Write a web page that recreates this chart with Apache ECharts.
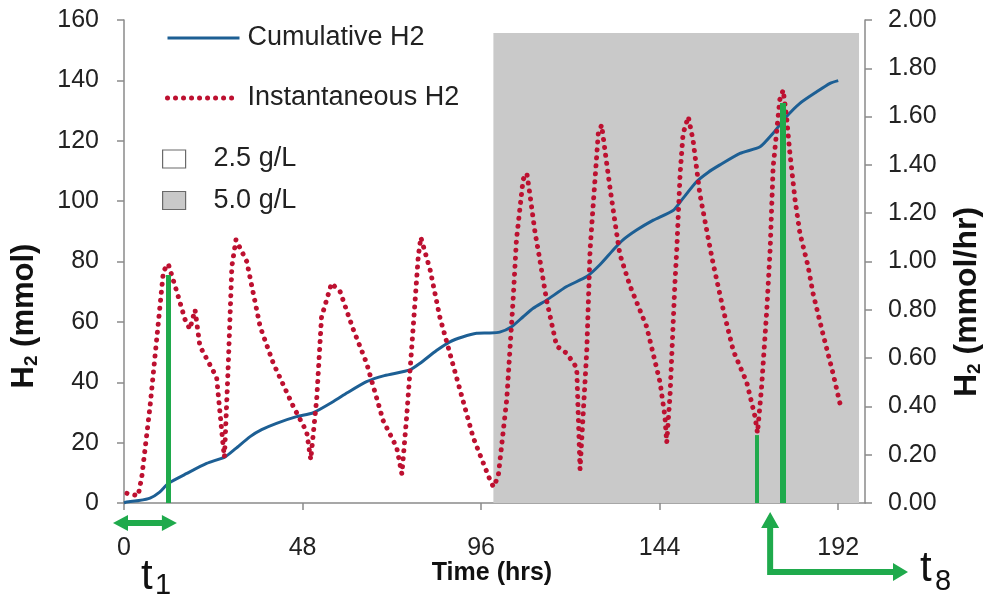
<!DOCTYPE html>
<html>
<head>
<meta charset="utf-8">
<script src="https://cdn.jsdelivr.net/npm/echarts@6/dist/echarts.min.js"></script>
<style>
html,body{margin:0;padding:0;background:#fff;}
#c{width:984px;height:599px;}
</style>
</head>
<body>
<div id="c"></div>
<script>
// ---- data ----
const xTicks = [0, 48, 96, 144, 192];
const cumHours = [0,0.7,4,7,9.5,11.9,16.9,22.2,27.2,30,33.9,37,41,46.4,50.9,56.3,60,65.2,70,76.9,79.6,84,87.6,91,94.8,98,101,104.2,107.3,110,113.6,119,124.4,128,131.5,134,137.8,142.3,147.7,150,153.9,157,160.2,165.6,171,174.5,178.1,181.7,186.2,189.8,192];
const cumH2 = [0,0.3,0.8,1.6,3.5,6.5,9.8,13.1,15.3,18,22,24.3,26.4,28.6,29.9,33.6,36.5,40.2,42.2,44.1,46.3,50.5,53.4,55,56.2,56.3,56.6,58.4,61.7,64.5,67.2,71.7,75,79,83.8,87,90.4,93.7,97,100.5,106.4,109.5,112,115.8,118,122.5,128,132.4,136.2,139,139.9];
const instHours = [0.8,3.8,4.8,7.0,8.8,10.6,11.9,14.2,16.4,17.7,19.1,20.4,24.9,26.7,27.0,28.0,29.0,30.1,33.0,36.6,40.1,45.5,49.1,50.2,51.8,53.1,55.8,58.1,61.6,65.2,69.7,73.3,74.7,76.0,77.8,79.1,79.8,82.3,84.9,89.4,93.9,98.4,99.3,100.6,102.9,104.6,105.5,107.3,108.3,109.1,110.5,111.8,113.6,116.3,119.0,121.7,122.6,124.4,125.3,126.2,127.5,128.4,129.3,130.6,132.4,133.3,136.0,140.5,144.1,145.4,145.9,146.8,148.1,148.6,149.5,150.3,151.7,153.0,154.8,157.5,158.4,161.1,163.8,167.4,169.6,170.3,171.4,172.8,173.7,174.5,176.3,177.2,178.1,179.0,180.4,181.7,183.9,185.2,187.9,190.6,192.5];
const instH2 = [0.04,0.03,0.11,0.40,0.68,0.96,0.99,0.875,0.76,0.72,0.80,0.65,0.52,0.23,0.19,0.56,0.98,1.09,1.00,0.73,0.58,0.40,0.295,0.18,0.43,0.77,0.91,0.875,0.72,0.58,0.34,0.23,0.12,0.36,0.74,1.02,1.10,0.965,0.77,0.52,0.27,0.095,0.067,0.11,0.43,0.84,1.09,1.34,1.365,1.28,1.12,1.006,0.84,0.65,0.62,0.56,0.14,0.63,1.05,1.25,1.53,1.565,1.46,1.31,1.12,1.03,0.90,0.73,0.50,0.36,0.25,0.45,0.91,1.05,1.365,1.53,1.60,1.50,1.28,1.06,0.99,0.80,0.63,0.50,0.36,0.29,0.48,0.80,1.05,1.39,1.67,1.71,1.60,1.45,1.255,1.117,0.98,0.87,0.70,0.537,0.41];
const shadeFrom = [99.3, 0];
const shadeTo = [197.6, 155.7];
const markerHours = [11.8, 170.2, 177.2];
const markerTops = [75.5, 22.5, 132.5];
const markerWidths = [5, 4, 6];
const arrowUpHour = 173.7;

const FONT = 'Liberation Sans';
const GREEN = '#1faa4c';
const AXIS = '#8a8a8a';
const RED = '#bd1030';
const NOSYM = {color: 'rgba(0,0,0,0)', borderWidth: 0, opacity: 0};
const DOTS = {color: RED, width: 5, type: [0.01, 8], cap: 'round'};

const chart = echarts.init(document.getElementById('c'), null, {renderer: 'canvas'});

const option = {
  animation: false,
  backgroundColor: '#fff',
  textStyle: {fontFamily: FONT},
  grid: {left: 124, right: 119, top: 20, bottom: 96, containLabel: false, outerBoundsMode: 'none'},
  legend: [
    {
      orient: 'vertical', left: 165, top: 23, itemGap: 30, padding: 0,
      itemWidth: 72, itemHeight: 14,
      textStyle: {fontSize: 27, color: '#222', lineHeight: 30, fontFamily: FONT, padding: [0,0,0,3]},
      data: [
        {name: 'Cumulative H2', itemStyle: NOSYM, lineStyle: {color: '#1d5f94', width: 3}},
        {name: 'Instantaneous H2', itemStyle: NOSYM, lineStyle: DOTS}
      ],
      selectedMode: false
    },
    {
      orient: 'vertical', left: 162, top: 144, itemGap: 11.5, padding: 0,
      itemWidth: 23, itemHeight: 18,
      textStyle: {fontSize: 27, color: '#222', lineHeight: 30, fontFamily: FONT, padding: [0,0,0,23]},
      data: [
        {name: '2.5 g/L', icon: 'rect', itemStyle: {color: '#ffffff', borderColor: '#6a6a6a', borderWidth: 1.2}},
        {name: '5.0 g/L', icon: 'rect', itemStyle: {color: '#c9c9c9', borderColor: '#6a6a6a', borderWidth: 1.2}}
      ],
      selectedMode: false
    }
  ],
  xAxis: {
    type: 'value', min: 0, max: 199.2, interval: 48,
    axisLine: {show: true, onZero: false, lineStyle: {color: AXIS, width: 1.5}},
    axisTick: {show: true, inside: false, length: 7, lineStyle: {color: AXIS, width: 1.5}},
    axisLabel: {fontSize: 25, color: '#222', margin: 33, showMaxLabel: false,
      formatter: v => xTicks.indexOf(v) >= 0 ? String(v) : ''},
    splitLine: {show: false}
  },
  yAxis: [
    {
      type: 'value', min: 0, max: 160, interval: 20, position: 'left',
      axisLine: {show: true, lineStyle: {color: AXIS, width: 1.5}},
      axisTick: {show: true, inside: false, length: 7, lineStyle: {color: AXIS, width: 1.5}},
      axisLabel: {fontSize: 25, color: '#222', margin: 25},
      splitLine: {show: false}
    },
    {
      type: 'value', min: 0, max: 2, interval: 0.2, position: 'right',
      axisLine: {show: true, lineStyle: {color: AXIS, width: 1.5}},
      axisTick: {show: true, inside: false, length: 7, lineStyle: {color: AXIS, width: 1.5}},
      axisLabel: {fontSize: 25, color: '#222', margin: 23, formatter: v => v.toFixed(2)},
      splitLine: {show: false}
    }
  ],
  series: [
    {
      name: '5.0 g/L', type: 'line', data: [], z: 1,
      itemStyle: {color: '#c9c9c9', borderColor: '#6a6a6a', borderWidth: 1.2},
      markArea: {
        silent: true,
        itemStyle: {color: '#c9c9c9'},
        data: [[{coord: shadeFrom}, {coord: shadeTo}]]
      }
    },
    {
      name: '2.5 g/L', type: 'line', data: [], z: 1,
      itemStyle: {color: '#ffffff', borderColor: '#6a6a6a', borderWidth: 1.2}
    },
    {
      name: 'Cumulative H2', type: 'line', yAxisIndex: 0, z: 3,
      data: cumHours.map((h, i) => [h, cumH2[i]]),
      showSymbol: false, symbol: 'none', smooth: 0.2,
      lineStyle: {color: '#1d5f94', width: 3},
      itemStyle: {color: '#1d5f94'}
    },
    {
      name: 'Instantaneous H2', type: 'line', yAxisIndex: 1, z: 4,
      data: instHours.map((h, i) => [h, instH2[i]]),
      showSymbol: false, symbol: 'none',
      lineStyle: DOTS,
      itemStyle: {color: RED}
    },
    {
      name: 'markers', type: 'line', yAxisIndex: 0, data: [], z: 5,
      markLine: {
        silent: true, symbol: ['none', 'none'], label: {show: false},
        data: markerHours.map((h, i) => [
          {coord: [h, 0], lineStyle: {color: GREEN, width: markerWidths[i], type: 'solid'}},
          {coord: [h, markerTops[i]]}
        ])
      }
    }
  ]
};
chart.setOption(option);

function px(h) { return chart.convertToPixel({xAxisIndex: 0}, h); }
const x0 = px(0), xT1 = px(markerHours[0]), xUp = px(arrowUpHour);
const yA = 523;
const L = x0 - 11, R = xT1 + 9;
const dbl = [[L,yA],[L+15,yA-8],[L+15,yA-3],[R-15,yA-3],[R-15,yA-8],[R,yA],[R-15,yA+8],[R-15,yA+3],[L+15,yA+3],[L+15,yA+8]];
const yH = 572, xEnd = 908;
const up = [[xUp,512],[xUp+9,528],[xUp+3,528],[xUp+3,yH-3],[xEnd-15,yH-3],[xEnd-15,yH-9],[xEnd,yH],[xEnd-15,yH+9],[xEnd-15,yH+3],[xUp-3,yH+3],[xUp-3,528],[xUp-9,528]];

chart.setOption({
  graphic: [
    {type: 'polygon', shape: {points: dbl}, style: {fill: GREEN}, z: 10},
    {type: 'polygon', shape: {points: up}, style: {fill: GREEN}, z: 10},
    {type: 'text', x: 141, y: 577, style: {text: 't', font: '42px "Liberation Sans"', fill: '#111', textVerticalAlign: 'middle'}},
    {type: 'text', x: 155, y: 586, style: {text: '1', font: '29px "Liberation Sans"', fill: '#111', textVerticalAlign: 'middle'}},
    {type: 'text', x: 920, y: 569, style: {text: 't', font: '42px "Liberation Sans"', fill: '#111', textVerticalAlign: 'middle'}},
    {type: 'text', x: 935, y: 582, style: {text: '8', font: '29px "Liberation Sans"', fill: '#111', textVerticalAlign: 'middle'}},
    {type: 'text', x: 492, y: 573, style: {text: 'Time (hrs)', font: 'bold 25px "Liberation Sans"', fill: '#111', textAlign: 'center', textVerticalAlign: 'middle'}},
    {type: 'text', x: 24, y: 316, rotation: Math.PI / 2,
      style: {text: '{b|H}{s|2}{b| (mmol)}', textAlign: 'center', textVerticalAlign: 'middle',
        rich: {b: {fontSize: 31, fontWeight: 'bold', fontFamily: FONT, fill: '#111', lineHeight: 34},
               s: {fontSize: 19, fontWeight: 'bold', fontFamily: FONT, fill: '#111', verticalAlign: 'bottom', lineHeight: 34}}}},
    {type: 'text', x: 967, y: 302, rotation: Math.PI / 2,
      style: {text: '{b|H}{s|2}{b| (mmol/hr)}', textAlign: 'center', textVerticalAlign: 'middle',
        rich: {b: {fontSize: 32, fontWeight: 'bold', fontFamily: FONT, fill: '#111', lineHeight: 34},
               s: {fontSize: 19, fontWeight: 'bold', fontFamily: FONT, fill: '#111', verticalAlign: 'bottom', lineHeight: 34}}}}
  ]
});
</script>
</body>
</html>
